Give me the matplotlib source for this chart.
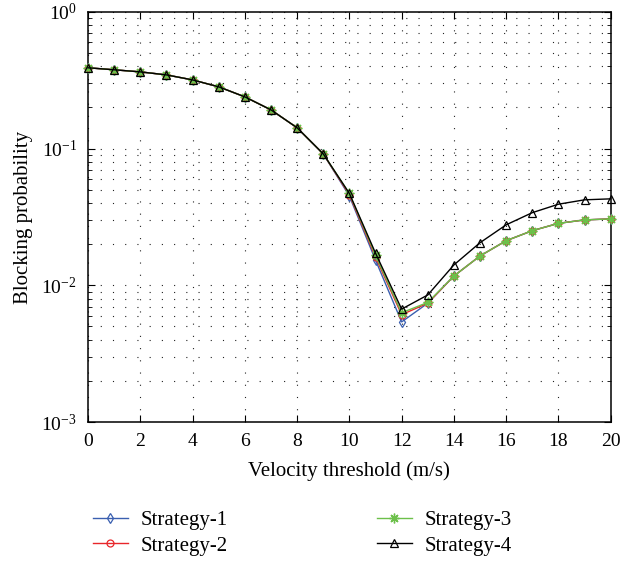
import matplotlib
matplotlib.use("Agg")
import matplotlib.pyplot as plt
from matplotlib.ticker import LogLocator, NullFormatter

plt.rcParams['font.family'] = ['Liberation Serif', 'DejaVu Serif']
plt.rcParams['mathtext.fontset'] = 'stix'

x = list(range(0, 21))
s1 = [0.39, 0.377, 0.364, 0.346, 0.318, 0.283, 0.239, 0.192, 0.142, 0.0915, 0.045,
      0.0153, 0.0054, 0.0074, 0.0117, 0.0164, 0.0212, 0.0251, 0.0284, 0.0301, 0.0306]
s2 = [0.39, 0.377, 0.364, 0.346, 0.318, 0.283, 0.239, 0.192, 0.142, 0.0915, 0.046,
      0.0161, 0.0061, 0.0074, 0.0117, 0.0164, 0.0212, 0.0251, 0.0284, 0.0301, 0.0306]
s3 = [0.39, 0.377, 0.364, 0.346, 0.318, 0.283, 0.239, 0.192, 0.142, 0.0915, 0.047,
      0.0166, 0.0063, 0.0075, 0.0117, 0.0164, 0.0212, 0.0251, 0.0284, 0.0301, 0.0306]
s4 = [0.39, 0.377, 0.364, 0.346, 0.318, 0.283, 0.239, 0.192, 0.142, 0.0915, 0.047,
      0.0172, 0.0067, 0.0085, 0.0141, 0.0205, 0.0277, 0.034, 0.0392, 0.0422, 0.0429]
labels = ['Strategy-1', 'Strategy-2', 'Strategy-3', 'Strategy-4']
xticks = list(range(0, 21, 2))

fig = plt.figure(figsize=(6.2, 5.65), dpi=100)
ax = fig.add_axes([0.142, 0.253, 0.843, 0.726])

ax.plot(x, s1, color='#3a5fb0', lw=1.0, marker='d', ms=5, mfc='none', mew=0.9,
        label=labels[0], clip_on=False, zorder=3)
ax.plot(x, s2, color='#e8262a', lw=1.0, marker='o', ms=5, mfc='none', mew=0.9,
        label=labels[1], clip_on=False, zorder=3)
ax.plot(x, s3, color='#6cc04a', lw=1.0, marker=(8, 2, 0), ms=7, mew=1.0,
        label=labels[2], clip_on=False, zorder=3)
ax.plot(x, s4, color='black', lw=1.0, marker='^', ms=6, mfc='none', mew=0.9,
        label=labels[3], clip_on=False, zorder=3)

ax.set_yscale('log')
ax.set_xlim(0, 20)
ax.set_ylim(1e-3, 1)
ax.set_xticks(xticks)
ax.yaxis.set_major_locator(LogLocator(base=10, numticks=10))
ax.yaxis.set_minor_locator(LogLocator(base=10, subs=range(2, 10), numticks=10))
ax.yaxis.set_minor_formatter(NullFormatter())

ax.tick_params(which='both', direction='in', top=True, right=True, labelsize=14, pad=8)
ax.tick_params(which='major', length=5)
ax.tick_params(which='minor', length=3)
for sp in ax.spines.values():
    sp.set_linewidth(1.1)

ax.grid(True, which='major', axis='x', color='#222222', ls=(0, (1, 10)), lw=0.8)
ax.grid(True, which='both', axis='y', color='#222222', ls=(0, (1, 10)), lw=0.8)

ax.set_xlabel('Velocity threshold (m/s)', fontsize=15, labelpad=8)
ax.set_ylabel('Blocking probability', fontsize=15, labelpad=6)

fig.legend(loc='upper left', bbox_to_anchor=(0.119, 0.13), ncol=2, frameon=False,
           fontsize=15, columnspacing=7.15, handlelength=1.7, handletextpad=0.6,
           labelspacing=0.3)

fig.savefig('out.png', dpi=100)
